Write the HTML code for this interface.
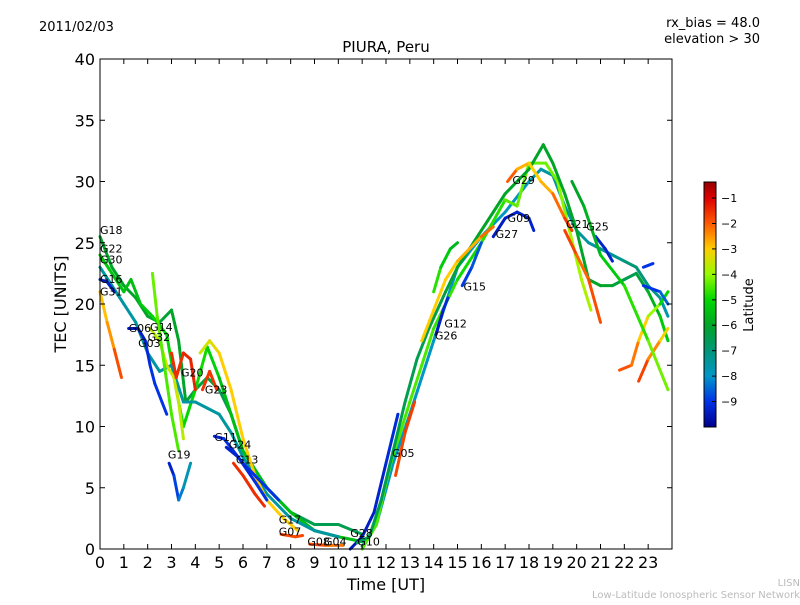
<!DOCTYPE html>
<html><head><meta charset="utf-8"><style>
body{margin:0;background:#fff;font-family:"Liberation Sans","DejaVu Sans",sans-serif}
svg text{font-family:"DejaVu Sans","Liberation Sans",sans-serif}
</style></head><body>
<svg id="chart" width="800" height="600" xmlns="http://www.w3.org/2000/svg">
<rect width="800" height="600" fill="#fff"/>
<text x="39" y="31" font-size="13">2011/02/03</text>
<text x="760" y="27" font-size="13" text-anchor="end">rx_bias = 48.0</text>
<text x="760" y="43" font-size="13" text-anchor="end">elevation &gt; 30</text>
<text x="386" y="52" font-size="15" text-anchor="middle">PIURA, Peru</text>
<g id="marks"></g>
<g id="labels"></g>
<rect x="100" y="59" width="572" height="490" fill="none" stroke="#000" stroke-width="1"/>
<g id="axes"></g>
<text x="386" y="590" font-size="16" text-anchor="middle">Time [UT]</text>
<text transform="translate(66,304) rotate(-90)" font-size="16" text-anchor="middle">TEC [UNITS]</text>
<defs><linearGradient id="lat" x1="0" y1="1" x2="0" y2="0"></linearGradient></defs>
<g>
<rect x="704" y="182" width="12" height="245" fill="url(#lat)" stroke="#000" stroke-width="1"/>
<g id="cbticks"></g>
<text transform="translate(753,305) rotate(-90)" font-size="13" text-anchor="middle">Latitude</text>
</g>
<text x="800" y="586" font-size="10" fill="#bbb" text-anchor="end">LISN</text>
<text x="800" y="598" font-size="10" fill="#bbb" text-anchor="end">Low-Latitude Ionospheric Sensor Network</text>
</svg>
<script>
const xTicks=[0,1,2,3,4,5,6,7,8,9,10,11,12,13,14,15,16,17,18,19,20,21,22,23];
const yTicks=[0,5,10,15,20,25,30,35,40];
const cbTicks=[-1,-2,-3,-4,-5,-6,-7,-8,-9];
// traces: arrays of [time, tec, latitude]
const trG18=[[0,25.5,-6],[0.5,23,-6],[1,21.5,-6],[1.5,20.5,-6],[2,19,-6],[2.5,18.5,-6.2],[3,19.5,-6],[3.3,17,-6],[3.6,12,-6],[4,13,-6.5],[4.5,14,-6],[5,13,-6.5],[5.5,11,-6.5],[6,8,-6.5],[7,5,-6.5],[8,3,-6.5],[9,2,-6.5],[10,2,-6.5],[11,1.2,-6.5]];
const trG22=[[0,24,-5.3],[0.5,22.5,-5.3],[1,21,-5.5],[1.3,22,-5.5],[1.7,20,-5.5],[2.2,19,-5],[2.8,17.5,-5],[3.2,13,-5],[3.5,10,-5],[4,13,-5],[4.5,16.5,-4.8],[5,14,-5.5],[5.5,11,-5.5],[6,8,-5.5],[7,5,-5.5],[8,3,-5.5],[9,1.5,-5.5],[10,1,-5.5],[11,0.6,-5.5]];
const trG30=[[0,23,-7.5],[0.5,21.5,-7.5],[1,20,-7.5],[1.5,18.5,-7.5],[2,16,-7.5],[2.5,14.5,-7.5],[3,15,-7.5],[3.5,12,-7.5],[4,12,-7.5],[4.5,11.5,-7.5],[5,11,-7.5],[5.5,9.5,-7.5],[6,7.5,-7.5],[7,4.5,-7.5],[8,2.5,-7.5],[9,1.5,-7.5],[10,1,-7.5]];
const trG16=[[0,22,-9.5],[0.3,21.8,-9.5],[0.6,21,-9.2]];
const trG31=[[0,21,-3],[0.3,18.5,-2.8],[0.6,16.3,-2.2],[0.9,14,-1.5]];
const trG06=[[1.2,18,-9.5],[1.6,18,-9.5],[1.9,17,-9.3],[2.1,15,-9],[2.3,13.5,-9],[2.6,12,-9],[2.8,11,-9]];
const trG14=[[2.1,18,-3.8],[2.5,17,-3.5],[2.8,15,-3.5],[3.1,14,-3.5],[3.3,12,-3.5],[3.5,9,-3.8]];
const trG20=[[3,16,-1.5],[3.2,14,-1.5],[3.5,16,-1.5],[3.8,15.5,-1.3],[4,13,-1.5]];
const trG19=[[2.9,7,-9.5],[3.1,6,-9.2],[3.3,4,-8.5],[3.5,5,-8],[3.8,7,-7.5]];
const trSpike=[[2.2,22.5,-4.3],[2.4,19,-4.3],[2.7,15,-4.5],[3,11,-4.5],[3.3,8,-4.5]];
const trG23=[[4.2,16,-3.5],[4.6,17,-3.5],[5,16,-3],[5.5,13,-3],[6,9,-3],[6.5,6,-3],[7,4,-3],[7.7,2.5,-3],[8.3,1.5,-3]];
const trG23b=[[4.3,13,-1.6],[4.6,14.5,-1.6],[4.9,13,-1.6]];
const trG11=[[4.8,9.2,-9.3],[5.2,9,-9],[5.6,8,-9],[6,7,-9],[6.5,6,-9],[7,5,-9],[7.5,4,-9]];
const trG24=[[5.3,8.3,-9.3],[5.8,7.5,-9.3],[6.5,5.5,-9],[7,4,-9]];
const trG13=[[5.6,7,-1.5],[6,6,-1.5],[6.5,4.5,-1.5],[6.9,3.5,-1.5]];
const trG17=[[7.6,1.2,-1.8],[8.2,1,-1.8],[8.5,1.1,-1.8]];
const trG08=[[8.8,0.4,-1.6],[9.5,0.3,-2],[10.2,0.3,-2.5]];
const trG10=[[10.5,0,-9.5],[11,1,-9.5],[11.5,3,-9.3],[12,7,-9.3],[12.5,11,-9]];
const trRise1=[[10.8,0.5,-6.5],[11.3,1,-6.5],[11.8,4,-6.5],[12.3,8,-6.5],[12.8,12,-6.5],[13.3,15.5,-6.5],[13.8,18,-6.5],[14.5,21,-6.3],[15,23,-6],[16,26,-6],[17,29,-6],[18,31,-6],[18.6,33,-6],[19,31.5,-6],[19.5,29,-6],[20,26,-6],[20.5,22,-6],[21,21.5,-6],[21.5,21.5,-6],[22,22,-6.5],[22.5,22.5,-6.5],[23,21,-6],[23.5,19,-5.5],[23.83,17,-5]];
const trRise2=[[11,0,-4.5],[11.6,2,-4.5],[12.2,7,-4.5],[13,12,-4.5],[13.5,15,-4.5],[14,18,-4.5],[15,22,-4.8],[16,25,-5],[17,28.5,-4.5],[17.5,28,-4.3],[18,31.5,-4.3],[18.7,31.5,-4.3],[19.2,30,-4.2],[19.7,26,-4],[20.2,22,-3.8],[20.6,19.5,-3.8]];
const trRise3=[[11,0.2,-8],[11.6,2,-8],[12.3,7,-8],[13,11,-8],[14,17,-8],[15,23,-8],[16,25.5,-8],[17,27.5,-8],[18,30,-7.8],[18.5,31,-7.5],[19,30.5,-7.5],[19.5,28,-7.5],[20,26,-7.5],[20.5,25,-7.5],[21,24.5,-7.5],[21.5,24,-7.5],[22,23.5,-7],[22.5,23,-7],[23,21.5,-7],[23.5,20.5,-7.5],[23.83,19,-7.8]];
const trG25=[[20.8,25.5,-9.3],[21.2,24.5,-9.3],[21.5,23.5,-9.3]];
const trG12=[[13.5,17,-3],[14,19.5,-3],[14.5,22,-3],[15,23.5,-3],[16,25.5,-2.5],[16.5,26.3,-1.8]];
const trG29=[[17.1,30,-1.5],[17.5,31,-2.5],[18,31.5,-3],[18.5,30,-3],[19,29,-2.5],[19.5,27,-1.8],[19.8,26,-1.5]];
const trG09=[[17,27,-9.3],[17.5,27.5,-9.3],[18,27,-9.3],[18.2,26,-9.3]];
const trG27=[[16.5,25.5,-9.5],[17,27,-9.3]];
const trG15=[[15.2,21.5,-9],[15.6,23,-8.8],[16,25,-8.5]];
const trG26=[[14.1,17.5,-9.5],[14.4,19.5,-9.3],[14.6,20.5,-9]];
const trEarly=[[14,21,-4.5],[14.3,23,-5],[14.7,24.5,-5.5],[15,25,-5.8]];
const trG21=[[19.5,26,-1.5],[20,24,-2],[20.5,22,-2.2],[21,18.5,-1.5]];
const trLate1=[[21.8,14.6,-1.8],[22.3,15,-2],[22.6,17,-2.5],[23,19,-3.5],[23.5,20,-4.5],[23.83,21,-5.5]];
const trLate2=[[22.6,13.7,-1.5],[23,15.5,-2],[23.5,17,-2.8],[23.83,18,-3.5]];
const trFall=[[19.8,30,-6],[20.3,28,-6],[21,24,-5.5],[22,21.5,-5],[23,17,-4.5],[23.83,13,-4]];
const trBlue1=[[22.8,23,-9],[23.2,23.3,-9]];
const trBlue2=[[22.8,21.5,-9],[23.5,21,-9],[23.83,20,-8]];
const trG05=[[12.4,6,-1.8],[12.8,9.5,-1.8],[13.2,12,-1.6]];
const traces=[trG18,trG22,trG30,trG16,trG31,trG06,trG14,trG20,trG19,trSpike,trG23,trG23b,trG11,trG24,trG13,trG17,trG08,trG10,trRise3,trRise2,trRise1,trG25,trG12,trG29,trG09,trG27,trG15,trG26,trEarly,trG21,trLate1,trLate2,trFall,trBlue1,trBlue2,trG05];
const satNames=["G18","G22","G30","G16","G31","G06","G14","G32","G03","G20","G23","G11","G24","G13","G19","G17","G07","G08","G04","G28","G10","G05","G26","G12","G15","G27","G09","G29","G21","G25"];
const satT=[0,0,0,0,0,1.2,2.1,2.0,1.6,3.4,4.4,4.8,5.4,5.7,2.85,7.5,7.5,8.7,9.4,10.5,10.8,12.25,14.05,14.45,15.25,16.6,17.1,17.3,19.55,20.4];
const satV=[25.7,24.2,23.3,21.7,20.7,17.7,17.8,17.0,16.5,14.1,12.7,8.8,8.2,7.0,7.4,2.1,1.1,0.3,0.3,1.0,0.3,7.5,17.1,18.1,21.1,25.4,26.7,29.8,26.2,26.0];
const X0=100,X1=672,Y0=549,Y1=59,LMIN=-10,LMAX=-0.37;
// colormap stops [lat, r, g, b]
const cmap=[[-10,0,0,140],[-9,0,50,230],[-8,0,150,200],[-7,0,150,120],[-6,0,165,40],[-5,0,215,0],[-4,150,250,0],[-3,255,205,0],[-2,255,90,0],[-1,220,0,0],[-0.37,150,0,0]];
function xs(t){return X0+(X1-X0)*t/24;}
function ys(v){return Y0-(Y0-Y1)*v/40;}
function col(lat){lat=Math.max(LMIN,Math.min(LMAX,lat));
 for(let i=0;i<cmap.length-1;i++){const a=cmap[i],b=cmap[i+1];
  if(lat<=b[0]){const f=(lat-a[0])/(b[0]-a[0]);
   return `rgb(${Math.round(a[1]+f*(b[1]-a[1]))},${Math.round(a[2]+f*(b[2]-a[2]))},${Math.round(a[3]+f*(b[3]-a[3]))})`;}}
 return 'rgb(150,0,0)';}
const NS="http://www.w3.org/2000/svg";
function mk(tag,attrs,parent){const e=document.createElementNS(NS,tag);for(const k in attrs)e.setAttribute(k,attrs[k]);parent.appendChild(e);return e;}
const grad=document.getElementById('lat');
cmap.forEach(s=>{mk('stop',{offset:(s[0]-LMIN)/(LMAX-LMIN),'stop-color':`rgb(${s[1]},${s[2]},${s[3]})`},grad);});
const marks=document.getElementById('marks');
traces.forEach((tr,i)=>{
 const g=mk('g',{},marks);
 
 
 for(let j=0;j<tr.length-1;j++){
  const a=tr[j],b=tr[j+1];
  const l=mk('line',{x1:xs(a[0]),y1:ys(a[1]),x2:xs(b[0]),y2:ys(b[1]),stroke:col((a[2]+b[2])/2),'stroke-width':3,'stroke-linecap':'round'},g);
  
  
 }
});
const labels=document.getElementById('labels');
satNames.forEach((n,i)=>{
 const t=mk('text',{x:xs(satT[i]),y:ys(satV[i]),'font-size':11},labels);
 t.textContent=n;
 
 
});
const axes=document.getElementById('axes');
xTicks.forEach(v=>{
 const x=xs(v);
 const a=mk('line',{x1:x,y1:Y0,x2:x,y2:Y0-5,stroke:'#000'},axes);
 
 
 mk('line',{x1:x,y1:Y1,x2:x,y2:Y1+5,stroke:'#000'},axes);
 const t=mk('text',{x:x,y:568,'font-size':16,'text-anchor':'middle'},axes);
 t.textContent=v;
 
 
});
yTicks.forEach(v=>{
 const y=ys(v);
 const a=mk('line',{x1:X0,y1:y,x2:X0+5,y2:y,stroke:'#000'},axes);
 
 
 mk('line',{x1:X1,y1:y,x2:X1-5,y2:y,stroke:'#000'},axes);
 const t=mk('text',{x:95,y:y+6,'font-size':16,'text-anchor':'end'},axes);
 t.textContent=v;
 
 
});
const cb=document.getElementById('cbticks');
cbTicks.forEach(v=>{
 const y=182+245*(LMAX-v)/(LMAX-LMIN);
 mk('line',{x1:712,y1:y,x2:716,y2:y,stroke:'#000'},cb);
 const t=mk('text',{x:721,y:y+4,'font-size':11},cb);
 t.textContent='\u2212'+(-v);
 
 
});
</script>
</body></html>
